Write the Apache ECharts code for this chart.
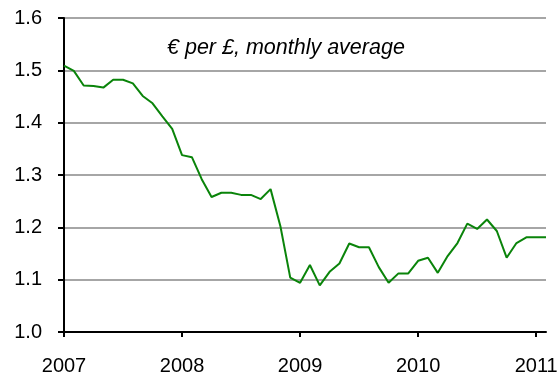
<!DOCTYPE html>
<html>
<head>
<meta charset="utf-8">
<script src="https://cdn.jsdelivr.net/npm/echarts@6/dist/echarts.min.js"></script>
<style>
  html, body { margin: 0; padding: 0; background: #fff; }
  #chart { width: 560px; height: 376px; }
</style>
</head>
<body>
<div id="chart"></div>
<script>
// Monthly average exchange rate, euros per pound, Jan 2007 - Feb 2011
const months = [];
for (let y = 2007; y <= 2011; y++) {
  for (let m = 1; m <= 12; m++) {
    if (y === 2011 && m > 2) break;
    months.push(y + '-' + String(m).padStart(2, '0'));
  }
}

const eurPerGbp = [
  1.509, 1.499, 1.471, 1.470, 1.467, 1.482, 1.482, 1.475, 1.451, 1.437, 1.412, 1.388,
  1.338, 1.334, 1.292, 1.258, 1.266, 1.266, 1.262, 1.262, 1.254, 1.273, 1.202, 1.104,
  1.094, 1.128, 1.089, 1.115, 1.131, 1.169, 1.162, 1.162, 1.124, 1.094, 1.112, 1.112,
  1.136, 1.142, 1.113, 1.145, 1.170, 1.207, 1.197, 1.215, 1.193, 1.142, 1.170, 1.181,
  1.181, 1.181
];

const yTicks = [1.0, 1.1, 1.2, 1.3, 1.4, 1.5, 1.6];
const subtitle = '€ per £, monthly average';

const FONT = "'Liberation Sans', Arial, sans-serif";
const chart = echarts.init(document.getElementById('chart'), null, { renderer: 'canvas' });

const isJanuary = (idx) => idx % 12 === 0;

chart.setOption({
  animation: false,
  backgroundColor: '#ffffff',
  grid: {
    left: 64, right: 14, top: 18, bottom: 44,
    containLabel: false,
    outerBoundsMode: 'none'
  },
  graphic: [{
    type: 'text',
    left: 167,
    top: 37,
    style: {
      text: subtitle,
      font: 'italic 21.5px ' + FONT,
      fill: '#000'
    }
  }],
  xAxis: {
    type: 'category',
    data: months,
    boundaryGap: false,
    axisLine: { lineStyle: { color: '#000', width: 2 } },
    axisTick: {
      show: true,
      interval: (idx) => isJanuary(idx),
      length: 5,
      lineStyle: { color: '#000', width: 2 }
    },
    axisLabel: {
      interval: (idx) => isJanuary(idx),
      formatter: (v) => v.slice(0, 4),
      margin: 24,
      color: '#000',
      fontSize: 20,
      fontFamily: FONT
    },
    splitLine: { show: false }
  },
  yAxis: {
    type: 'value',
    min: yTicks[0],
    max: yTicks[yTicks.length - 1],
    interval: 0.1,
    axisLine: { show: true, lineStyle: { color: '#000', width: 2 } },
    axisTick: { show: true, length: 6, lineStyle: { color: '#000', width: 2 } },
    axisLabel: {
      margin: 22,
      color: '#000',
      fontSize: 20,
      fontFamily: FONT,
      formatter: (v) => v.toFixed(1)
    },
    splitLine: { show: true, lineStyle: { color: '#a6a6a6', width: 2 } }
  },
  series: [{
    type: 'line',
    data: eurPerGbp,
    symbol: 'none',
    lineStyle: { color: '#0a840a', width: 2 },
    z: 3
  }]
});
</script>
</body>
</html>
